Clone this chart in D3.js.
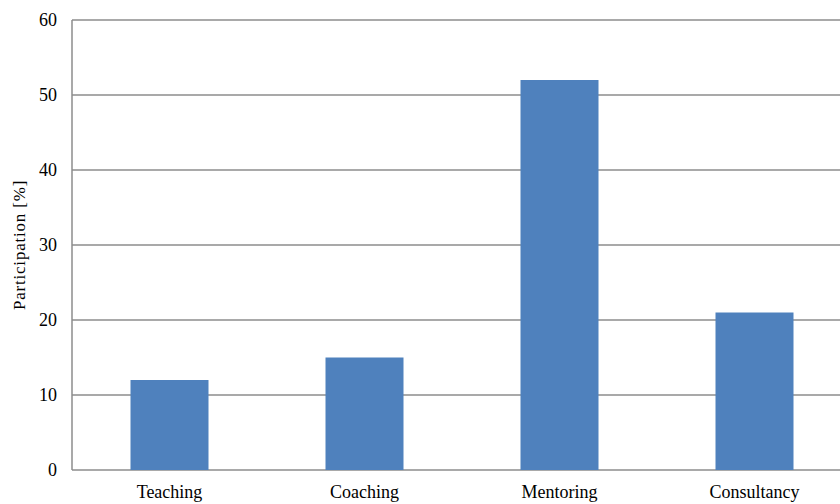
<!DOCTYPE html>
<html><head><meta charset="utf-8">
<script src="https://cdn.jsdelivr.net/npm/d3@7"></script>
<style>body{margin:0;background:#fff;} svg{display:block;}</style>
</head><body>
<svg id="c" width="840" height="504"></svg>
<script>
const categories = ["Teaching","Coaching","Mentoring","Consultancy"];
const values = [12, 15, 52, 21];
const yTicks = [0,10,20,30,40,50,60];
const yLabel = "Participation [%]";

(function(){
const svg = d3.select("#c");
const mLeft = 72, mRight = 852, mTop = 20, mBottom = 470;
const x = d3.scaleBand().domain(categories).range([mLeft, mRight]).paddingInner(0.6).paddingOuter(0.3);
const y = d3.scaleLinear().domain([0,60]).range([mBottom, mTop]);
const font = "'Liberation Serif','Times New Roman',serif";
const grid = "#8c8c8c";

svg.append("g").selectAll("line").data(yTicks).join("line")
  .attr("x1", mLeft).attr("x2", mRight)
  .attr("y1", d => y(d)).attr("y2", d => y(d))
  .attr("stroke", grid).attr("stroke-width", 1.5);

svg.append("line").attr("x1", mLeft).attr("x2", mLeft).attr("y1", mTop).attr("y2", mBottom)
  .attr("stroke", grid).attr("stroke-width", 1.5);

svg.append("g").selectAll("rect").data(values).join("rect")
  .attr("x", (d,i) => x(categories[i]))
  .attr("width", x.bandwidth())
  .attr("y", d => y(d))
  .attr("height", d => y(0) - y(d))
  .attr("fill", "#4F81BD");

svg.append("g").selectAll("text").data(yTicks).join("text")
  .attr("x", 57).attr("y", d => y(d)).attr("dy", "0.32em")
  .attr("text-anchor", "end").attr("font-family", font).attr("font-size", 18)
  .attr("fill", "#000").text(d => d);

svg.append("g").selectAll("text").data(categories).join("text")
  .attr("x", d => x(d) + x.bandwidth()/2).attr("y", 498)
  .attr("text-anchor", "middle").attr("font-family", font).attr("font-size", 18)
  .attr("fill", "#000").text(d => d);

svg.append("text").attr("transform", "translate(25,245) rotate(-90)")
  .attr("text-anchor", "middle").attr("font-family", font).attr("font-size", 17)
  .attr("letter-spacing", 0.8)
  .attr("fill", "#000").text(yLabel);
})();
</script>
</body></html>
